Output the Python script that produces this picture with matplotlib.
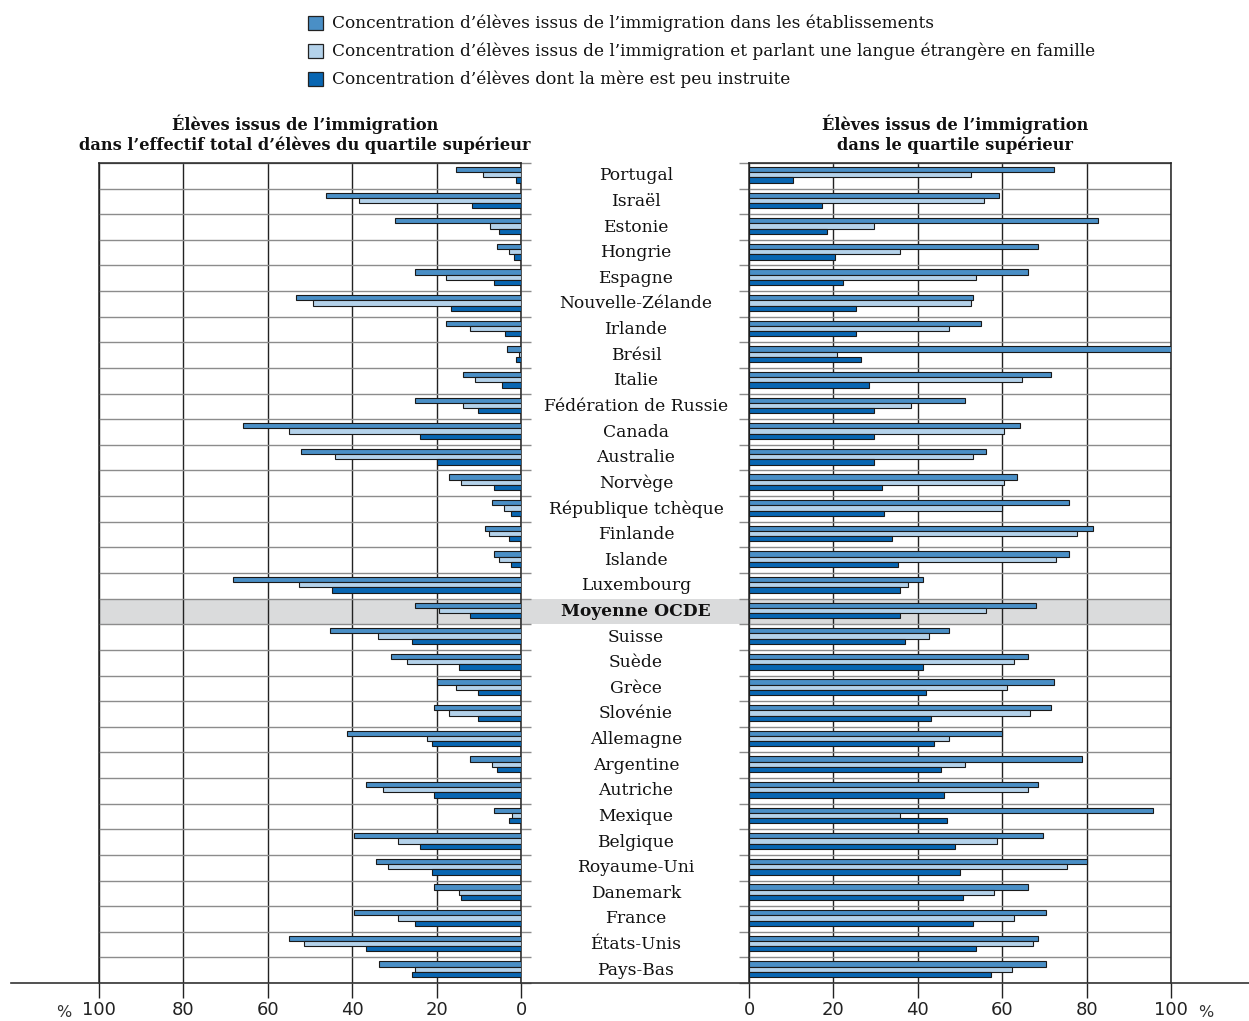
import matplotlib
matplotlib.use('Agg')
import matplotlib.pyplot as plt
import matplotlib.transforms as mtransforms
from matplotlib.patches import Rectangle
from matplotlib.lines import Line2D
import numpy as np

# data
pays = ['Portugal', 'Israël', 'Estonie', 'Hongrie', 'Espagne', 'Nouvelle-Zélande',
        'Irlande', 'Brésil', 'Italie', 'Fédération de Russie', 'Canada', 'Australie',
        'Norvège', 'République tchèque', 'Finlande', 'Islande', 'Luxembourg',
        'Moyenne OCDE', 'Suisse', 'Suède', 'Grèce', 'Slovénie', 'Allemagne',
        'Argentine', 'Autriche', 'Mexique', 'Belgique', 'Royaume-Uni', 'Danemark',
        'France', 'États-Unis', 'Pays-Bas']

# left panel: share in the total top-quartile student body
gauche_etab = [15.5, 46.3, 29.8, 5.8, 25.2, 53.3, 17.7, 3.4, 13.7, 25.2, 65.8, 52.1,
               17.1, 6.8, 8.6, 6.3, 68.2, 25.2, 45.3, 30.9, 20.0, 20.6, 41.3,
               12.0, 36.7, 6.3, 39.5, 34.4, 20.6, 39.5, 55.0, 33.7]
gauche_langue = [9.1, 38.4, 7.4, 2.9, 17.7, 49.2, 12.0, 0.5, 10.9, 13.7, 55.0, 44.1,
                 14.3, 4.0, 7.5, 5.2, 52.7, 19.4, 33.8, 26.9, 15.5, 17.1, 22.3,
                 6.8, 32.6, 2.2, 29.2, 31.5, 14.8, 29.2, 51.5, 25.2]
gauche_mere = [1.1, 11.5, 5.1, 1.7, 6.3, 16.5, 3.9, 1.1, 4.6, 10.3, 24.0, 20.0,
               6.3, 2.3, 2.9, 2.3, 44.7, 12.0, 25.8, 14.8, 10.3, 10.3, 21.2,
               5.7, 20.6, 2.9, 24.0, 21.2, 14.3, 25.2, 36.7, 25.8]

# right panel: immigrant students in the top quartile
droite_etab = [72.2, 59.2, 82.7, 68.5, 66.0, 53.0, 54.9, 100.0, 71.5, 51.2, 64.2, 56.1,
               63.6, 75.9, 81.4, 75.9, 41.3, 67.9, 47.5, 66.0, 72.2, 71.5, 59.9,
               79.0, 68.5, 95.7, 69.7, 80.2, 66.0, 70.4, 68.5, 70.4]
droite_langue = [52.5, 55.6, 29.6, 35.8, 53.7, 52.5, 47.5, 20.9, 64.8, 38.3, 60.5, 53.0,
                 60.5, 59.9, 77.7, 72.8, 37.6, 56.1, 42.6, 62.9, 61.1, 66.6, 47.5,
                 51.1, 66.0, 35.7, 58.7, 75.3, 58.0, 62.9, 67.3, 62.3]
droite_mere = [10.4, 17.2, 18.5, 20.3, 22.2, 25.3, 25.3, 26.6, 28.4, 29.6, 29.6, 29.6,
               31.5, 32.1, 33.9, 35.2, 35.7, 35.8, 37.0, 41.3, 42.0, 43.2, 43.8,
               45.6, 46.2, 46.9, 48.7, 50.0, 50.6, 53.0, 53.7, 57.4]

legende = ["Concentration d\u2019élèves issus de l\u2019immigration dans les établissements",
           "Concentration d\u2019élèves issus de l\u2019immigration et parlant une langue étrangère en famille",
           "Concentration d\u2019élèves dont la mère est peu instruite"]
couleurs = ['#4a8fc6', '#b4d2ea', '#0866b2']

serif = 'DejaVu Serif'
sans = 'DejaVu Sans'

W, H = 1249, 1021
fig = plt.figure(figsize=(W / 100, H / 100), dpi=100)

def fx(px):
    return px / W

def fy(py):
    return 1 - py / H

top, bot = 163, 983
axL = fig.add_axes([fx(99), fy(bot), fx(521) - fx(99), fy(top) - fy(bot)])
axR = fig.add_axes([fx(749), fy(bot), fx(1171) - fx(749), fy(top) - fy(bot)])

n = len(pays)
y = np.arange(n)
h = 0.205
series_g = [gauche_etab, gauche_langue, gauche_mere]
series_d = [droite_etab, droite_langue, droite_mere]

for ax, series in ((axL, series_g), (axR, series_d)):
    ax.set_facecolor('none')
    for k, vals in enumerate(series):
        ax.barh(y + (k - 1) * h - 0.04, vals, height=h, color=couleurs[k],
                edgecolor='#1a1a1a', linewidth=0.8, zorder=3)
    ax.set_ylim(n - 0.5, -0.5)
    ax.set_xticks([0, 20, 40, 60, 80, 100])
    ax.set_yticks(np.arange(n + 1) - 0.5)
    ax.set_yticklabels([])
    ax.grid(axis='x', color='#222222', linewidth=1.0, zorder=1)
    ax.grid(axis='y', color='#8c8c8c', linewidth=1.0, zorder=1)
    ax.set_axisbelow(True)
    for s in ax.spines.values():
        s.set_color('#222222')
        s.set_linewidth(1.1)
    ax.spines['bottom'].set_visible(False)
    ax.tick_params(axis='x', direction='out', length=11, width=1.0, color='#222222',
                   pad=2, labelsize=13, labelcolor='#222222')
    ax.tick_params(axis='y', length=7, width=1.0, color='#8c8c8c')
    for lab in ax.get_xticklabels():
        lab.set_family(sans)

axL.set_xlim(100, 0)
axR.set_xlim(0, 100)
axL.yaxis.tick_right()
axL.tick_params(axis='y', direction='out')
axR.tick_params(axis='y', direction='out')

# grey band for the OECD average row
i_moy = pays.index('Moyenne OCDE')
tr = mtransforms.blended_transform_factory(fig.transFigure, axL.transData)
fig.add_artist(Rectangle((fx(99), i_moy - 0.5), fx(1171) - fx(99), 1.0,
                         transform=tr, facecolor='#dadbdc', edgecolor='none', zorder=-1))

# country names in the middle
for i, p in enumerate(pays):
    fig.text(fx(636), i, p, transform=tr, ha='center', va='center', family=serif,
             fontsize=12.3, color='#111111',
             fontweight='bold' if p == 'Moyenne OCDE' else 'normal')

# long baseline across the figure
fig.add_artist(Line2D([fx(11), fx(1249)], [fy(bot), fy(bot)], color='#333333', linewidth=1.2))
fig.text(fx(64), fy(1012), '%', ha='center', va='center', family=sans, fontsize=11.5, color='#333333')
fig.text(fx(1206), fy(1012), '%', ha='center', va='center', family=sans, fontsize=11.5, color='#333333')

# panel headers
fig.text(fx(305), fy(134), "Élèves issus de l\u2019immigration\ndans l\u2019effectif total d\u2019élèves du quartile supérieur",
         ha='center', va='center', family=serif, fontsize=11.7, fontweight='bold',
         linespacing=1.15, color='#111111')
fig.text(fx(955), fy(134), "Élèves issus de l\u2019immigration\ndans le quartile supérieur",
         ha='center', va='center', family=serif, fontsize=11.7, fontweight='bold',
         linespacing=1.15, color='#111111')

# legend
for k, txt in enumerate(legende):
    yy = 23 + 28 * k
    fig.add_artist(Rectangle((fx(308), fy(yy + 7)), fx(15), 14 / H, facecolor=couleurs[k],
                             edgecolor='#222222', linewidth=0.9, transform=fig.transFigure))
    fig.text(fx(332), fy(yy), txt, ha='left', va='center', family=serif, fontsize=12.2,
             color='#111111')

fig.savefig('out.png', dpi=100)
